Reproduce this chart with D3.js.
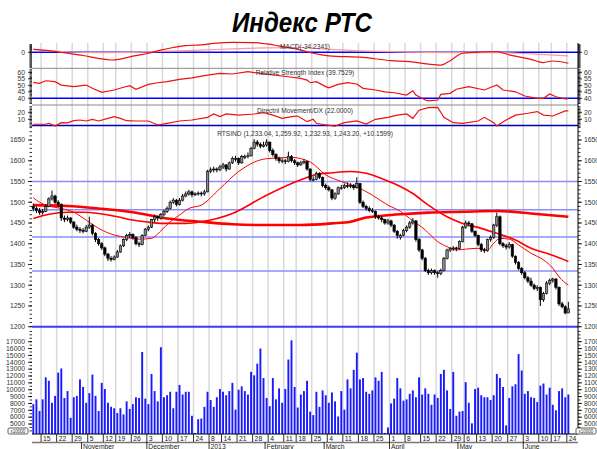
<!DOCTYPE html>
<html><head><meta charset="utf-8">
<script src="https://cdn.jsdelivr.net/npm/d3@7"></script>
<style>body{margin:0;background:#fff}svg{display:block}text{font-family:"Liberation Sans",Arial,sans-serif}</style>
</head><body><svg id="c" width="597" height="449"></svg>
<script>
const opens = [1490,1485,1480,1475,1478,1490,1508,1515,1500,1495,1462,1458,1462,1452,1440,1435,1432,1430,1440,1445,1425,1410,1400,1390,1375,1365,1362,1368,1380,1395,1410,1420,1422,1415,1400,1398,1420,1435,1440,1458,1465,1462,1470,1478,1485,1500,1505,1495,1505,1515,1520,1525,1518,1520,
1522,1520,1525,1575,1578,1580,1578,1585,1590,1580,1595,1605,1605,1595,1610,1610,1612,1630,1645,1640,1635,1638,1645,1625,1615,1605,1600,1600,1598,1610,1600,1595,1590,1595,1598,1580,1555,1555,1570,1560,1540,1535,1530,1510,1520,1535,1535,1540,1538,1540,1535,1545,1500,1490,1485,1480,1478,1465,1462,1458,1450,1455,1445,1430,
1415,1420,1432,1440,1450,1455,1410,1385,1365,1335,1330,1335,1330,1328,1335,1365,1385,1388,1390,1388,1405,1440,1450,1448,1430,1420,1398,1385,1383,1410,1415,1445,1465,1400,1395,1392,1398,1370,1355,1340,1330,1318,1310,1300,1292,1295,1265,1280,1305,1312,1315,1295,1255,1248,1233.04];
const highs = [1497,1490,1486,1484,1495,1512,1528,1518,1505,1497,1468,1468,1464,1455,1446,1440,1438,1445,1465,1448,1428,1414,1404,1393,1378,1370,1372,1385,1398,1413,1424,1428,1425,1418,1405,1423,1438,1444,1460,1470,1468,1474,1482,1490,1504,1510,1508,1510,1520,1526,1530,1528,1524,1526,
1526,1530,1578,1584,1586,1584,1590,1595,1592,1598,1610,1612,1608,1614,1615,1620,1634,1652,1650,1644,1646,1652,1646,1630,1618,1610,1606,1604,1622,1614,1604,1598,1600,1604,1600,1582,1562,1574,1572,1562,1545,1540,1532,1524,1538,1542,1545,1548,1546,1544,1560,1546,1504,1494,1490,1486,1480,1470,1466,1460,1460,1458,1447,1433,
1424,1436,1444,1455,1462,1457,1414,1388,1368,1340,1340,1338,1334,1340,1368,1388,1392,1394,1393,1408,1443,1456,1455,1450,1432,1422,1402,1390,1412,1420,1448,1475,1468,1404,1400,1404,1400,1372,1358,1344,1334,1322,1318,1304,1300,1297,1284,1310,1316,1318,1317,1297,1260,1252,1259.92];
const lows = [1478,1474,1470,1470,1476,1488,1504,1496,1488,1455,1452,1454,1447,1436,1430,1426,1425,1428,1436,1420,1404,1395,1385,1370,1358,1357,1360,1366,1378,1392,1406,1414,1410,1396,1392,1396,1418,1430,1438,1452,1455,1458,1466,1474,1482,1496,1490,1492,1502,1512,1516,1512,1515,1516,
1514,1516,1524,1570,1572,1572,1575,1580,1574,1578,1592,1598,1590,1593,1604,1606,1610,1628,1634,1630,1632,1634,1620,1610,1600,1594,1594,1592,1596,1596,1590,1585,1588,1592,1576,1550,1550,1553,1556,1536,1530,1526,1505,1506,1518,1530,1532,1534,1534,1530,1533,1496,1486,1480,1476,1474,1460,1458,1452,1446,1446,1440,1426,1412,
1410,1418,1428,1436,1446,1405,1380,1360,1332,1325,1326,1325,1318,1324,1333,1362,1380,1383,1382,1386,1403,1436,1442,1426,1416,1394,1380,1378,1381,1405,1412,1440,1396,1390,1386,1388,1366,1350,1336,1325,1314,1305,1296,1288,1286,1250,1260,1278,1300,1306,1290,1250,1244,1230,1232.93];
const closes = [1485,1480,1475,1478,1490,1508,1515,1500,1495,1462,1458,1462,1452,1440,1435,1432,1430,1440,1445,1425,1410,1400,1390,1375,1365,1362,1368,1380,1395,1410,1420,1422,1415,1400,1398,1420,1435,1440,1458,1465,1462,1470,1478,1485,1500,1505,1495,1505,1515,1520,1525,1518,1520,1522,
1520,1525,1575,1578,1580,1578,1585,1590,1580,1595,1605,1605,1595,1610,1610,1612,1630,1645,1640,1635,1638,1645,1625,1615,1605,1600,1600,1598,1610,1600,1595,1590,1595,1598,1580,1555,1555,1570,1560,1540,1535,1530,1510,1520,1535,1535,1540,1538,1540,1535,1545,1500,1490,1485,1480,1478,1465,1462,1458,1450,1455,1445,1430,1420,
1420,1432,1440,1450,1455,1410,1385,1365,1335,1330,1335,1330,1328,1335,1365,1385,1388,1390,1388,1405,1440,1450,1448,1430,1420,1398,1385,1383,1410,1415,1445,1465,1400,1395,1392,1398,1370,1355,1340,1330,1318,1310,1300,1292,1295,1265,1280,1305,1312,1315,1295,1255,1248,1233.04,1243.20];
const volumes = [7900,8600,6900,8600,11800,11300,8100,9100,12500,13100,8800,9800,5900,8900,9100,11500,10400,8100,9500,12200,9100,6900,11000,10100,8100,7500,7300,6600,7300,6400,8300,7200,7900,8900,8800,15500,8700,7900,12300,9800,8300,16200,8900,9200,9700,7300,9700,10700,9300,9700,9700,6200,3700,5700,
5800,7500,9700,8500,7500,8900,10100,9700,9200,9800,11000,7100,10000,10500,9800,9300,12600,12100,13800,16000,11700,8800,7600,11700,8600,10200,8100,10100,14400,17200,10400,7400,9300,9800,11300,6800,6300,9700,7500,9900,9200,8100,9600,8300,6100,9800,7100,11500,10200,12900,15400,11500,11700,9700,9400,9900,11800,11300,12600,3700,4500,8000,8700,11700,
10200,8400,8600,9400,9900,8900,11800,9300,10200,9400,7800,9300,8800,12300,12900,9900,7200,12600,6200,6800,6900,11100,8100,5100,10100,10300,9200,8900,8900,8500,9200,12300,11700,10400,4800,8800,10500,10800,15200,12800,9400,9800,8900,8800,8200,10600,10900,9300,10300,7800,7000,9800,10200,8900,9300];
const maFast = [[0,1511],[1,1505],[4,1493],[9,1485],[13,1476],[17,1457],[21,1437],[26,1421],[30,1415],[34,1411],[38,1413],[41,1431],[44,1453],[47,1469],[50,1485],[54,1493],[60,1533],[66,1574],[75,1605],[83,1608],[89,1597],[94,1566],[99,1550],[104,1537],[109,1517],[114,1493],[118,1478],[121,1461],[126,1433],[130,1405],[133,1393],[136,1385],[139,1387],[143,1389],[146,1385],[148,1401],[150,1413],[153,1411],[156,1397],[160,1377],[164,1361],[167,1341],[169,1320],[172,1300]];
const maMid = [[0,1461],[5,1471],[11,1476],[16,1476],[21,1473],[27,1465],[32,1457],[37,1452],[41,1449],[45,1449],[49,1449],[54,1453],[64,1473],[75,1517],[86,1554],[91,1567],[96,1571],[102,1574],[107,1570],[113,1554],[118,1538],[122,1521],[127,1493],[133,1465],[138,1449],[144,1437],[149,1425],[155,1409],[160,1389],[165,1377],[168,1369],[172,1357]];
const maSlow = [[0,1493],[11,1491],[21,1485],[32,1476],[43,1461],[54,1453],[64,1447],[75,1445],[86,1445],[96,1449],[102,1453],[107,1463],[113,1468],[118,1471],[127,1475],[138,1477],[149,1479],[160,1473],[172,1465]];
const macdLine = [[0,9],[5,5],[11,-3],[16,-10],[21,-19],[25,-24],[28,-21],[32,-12],[37,-3],[41,7],[45,15],[49,21],[54,23],[58,28],[64,31],[71,30],[75,26],[80,18],[86,7],[90,-3],[95,-11],[106,-16],[115,-26],[121,-29],[127,-37],[131,-40],[134,-26],[138,-3],[144,1],[149,2],[153,-8],[160,-22],[164,-32],[167,-27],[172,-34.2]];
const macdSignal = [[0,9],[11,1],[21,-1],[32,0],[43,3.5],[54,7],[64,11],[75,14],[86,15],[95,9],[115,2],[138,-1],[149,-1],[160,-5],[172,-11]];
const rsiLine = [[0,52.3],[2,51.5],[4,53.5],[7,52.8],[9,50.2],[13,49],[17,50.2],[19,47.7],[22,44.6],[26,46.4],[29,48.5],[31,49.7],[33,47],[37,50.7],[40,52],[43,52.8],[47,54.6],[51,55.8],[56,57.9],[60,59.2],[64,58.7],[69,60.5],[73,59.2],[77,58],[82,56.6],[86,55.4],[88,54],[89,52],[91,52.8],[94,49],[95,48],[98,50.7],[101,52],[104,51],[106,47.7],[110,46.4],[113,45],[116,44.3],[120,42.5],[122,45.8],[123,42.5],[126,38.7],[127,38],[130,38.7],[131,43],[134,43.8],[136,47],[140,49],[145,46.4],[149,50.2],[151,46.4],[155,45],[158,41.8],[162,40],[164,40],[166,43.3],[168,41.2],[171,39.5],[172,39.75]];
const dxLine = [[0,2.9],[4,2.9],[5,4.3],[7,0.4],[9,5.2],[11,5],[13,8],[15,9],[17,7.6],[19,10],[21,7.6],[24,11.4],[26,13.8],[28,11.4],[30,8],[33,7.6],[37,7.6],[40,1.9],[43,4.3],[47,7.6],[51,9],[56,12.8],[58,17.6],[60,13.8],[62,17.6],[66,16],[71,17.6],[74,19.5],[77,16],[80,11.4],[83,13.8],[85,14.7],[88,6.6],[90,10],[91,4.3],[94,1.9],[97,0.4],[100,5.2],[104,7.6],[107,3.3],[110,10],[114,12.8],[117,16],[120,17.6],[122,11.4],[124,23],[127,26.6],[130,27],[132,12.8],[135,5.2],[138,4.3],[143,7.6],[145,12.8],[148,5.2],[149,0.4],[152,9],[155,16],[159,18.6],[162,21],[164,16],[167,14.7],[171,21.9],[172,22]];
const levels = [1550,1482,1416,1334];
const weekTickIdx = [3,8,13,18,23,27,32,37,42,47,52,57,61,66,71,76,81,85,90,95,100,105,110,115,120,125,130,135,139,143,148,153,158,163,167,172];
const weekLabels = ["15","22","29","5","12","19","26","3","10","17","24","8","14","21","28","4","11","18","25","4","11","18","25","1","8","15","22","29","6","13","20","27","3","10","17","24"];
const monthIdx = [16,37,57,75,94,115,137,158];
const monthLabels = ["November","December","2013","February","March","April","May","June"];

const svg = d3.select("#c");
const X0=32, X1=578;
const x = d3.scaleLinear().domain([-0.42,175.1]).range([X0,X1]);
const yMacd = d3.scaleLinear().domain([-49.8,25.9]).range([68.3,44]);
const yRsi = d3.scaleLinear().domain([34.85,63.1]).range([105,68.3]);
const yDx = d3.scaleLinear().domain([0,30]).range([126.3,105.3]);
const yP = d3.scaleLinear().domain([1200,1685]).range([326.7,125.5]);
const yV = d3.scaleLinear().domain([3545,19187]).range([434,326.7]);

// grid
svg.append("g").selectAll("line").data(weekTickIdx).join("line")
 .attr("x1",d=>x(d-0.5)).attr("x2",d=>x(d-0.5)).attr("y1",43).attr("y2",434)
 .attr("stroke","#d9d9d9").attr("stroke-width",1.5);

// panel separators
[68.3,105].forEach(y=>svg.append("line").attr("x1",X0).attr("x2",X1).attr("y1",y).attr("y2",y).attr("stroke","#8a8a8a").attr("stroke-width",1));

// price levels
svg.append("g").selectAll("line").data(levels).join("line")
 .attr("x1",X0).attr("x2",X1).attr("y1",d=>yP(d)).attr("y2",d=>yP(d)).attr("stroke","#8c8cff").attr("stroke-width",1.5);
svg.append("line").attr("x1",X0).attr("x2",X1).attr("y1",yP(1200)).attr("y2",yP(1200)).attr("stroke","#3a3aff").attr("stroke-width",2);
svg.append("line").attr("x1",X0).attr("x2",X1).attr("y1",yP(1685)).attr("y2",yP(1685)).attr("stroke","#0000b0").attr("stroke-width",1.5);
svg.append("line").attr("x1",X0).attr("x2",X1).attr("y1",yMacd(0)).attr("y2",yMacd(0)).attr("stroke","#0000ff").attr("stroke-width",1.5);
svg.append("line").attr("x1",X0).attr("x2",X1).attr("y1",yRsi(40)).attr("y2",yRsi(40)).attr("stroke","#0000ff").attr("stroke-width",1.5);

const ln = (ys,curve)=>d3.line().x(d=>x(d[0])).y(d=>ys(d[1])).curve(curve||d3.curveLinear);
svg.append("path").attr("d",ln(yMacd,d3.curveMonotoneX)(macdSignal)).attr("fill","none").attr("stroke","#ff9a9a").attr("stroke-width",1.2);
svg.append("path").attr("d",ln(yMacd,d3.curveMonotoneX)(macdLine)).attr("fill","none").attr("stroke","#ee1111").attr("stroke-width",1.2);
svg.append("path").attr("d",ln(yRsi)(rsiLine)).attr("fill","none").attr("stroke","#ee1111").attr("stroke-width",1.2);
svg.append("path").attr("d",ln(yDx)(dxLine)).attr("fill","none").attr("stroke","#ee1111").attr("stroke-width",1.2);

// volume bars
svg.append("g").selectAll("rect").data(volumes).join("rect")
 .attr("x",(d,i)=>x(i)-0.95).attr("width",1.9).attr("y",d=>yV(d)).attr("height",d=>434-yV(d)).attr("fill","#1a1aff");

// MAs
svg.append("path").attr("d",ln(yP,d3.curveMonotoneX)(maSlow)).attr("fill","none").attr("stroke","#ff0000").attr("stroke-width",2.6);
svg.append("path").attr("d",ln(yP,d3.curveMonotoneX)(maMid)).attr("fill","none").attr("stroke","#ff0000").attr("stroke-width",1.6);
svg.append("path").attr("d",ln(yP,d3.curveMonotoneX)(maFast)).attr("fill","none").attr("stroke","#ff0000").attr("stroke-width",1);

// candles
const cg = svg.append("g");
closes.forEach((c,i)=>{
  const o=opens[i];
  cg.append("line").attr("x1",x(i)).attr("x2",x(i)).attr("y1",yP(highs[i])).attr("y2",yP(lows[i])).attr("stroke","#000").attr("stroke-width",1);
  const top=yP(Math.max(o,c)), bot=yP(Math.min(o,c));
  cg.append("rect").attr("x",x(i)-1.2).attr("width",2.4).attr("y",top).attr("height",Math.max(0.8,bot-top))
   .attr("fill",c>=o?"#8a8a8a":"#000").attr("stroke","#000").attr("stroke-width",0.6);
});

// axes
function axisPair(scale, ticks, minor){
  [[X0,-1],[X1,1]].forEach(([ax,dir])=>{
    const g=svg.append("g");
    minor.forEach(v=>g.append("line").attr("x1",ax).attr("x2",ax+dir*2.5).attr("y1",scale(v)).attr("y2",scale(v)).attr("stroke","#000").attr("stroke-width",0.8));
    ticks.forEach(v=>{
      g.append("line").attr("x1",ax).attr("x2",ax+dir*4).attr("y1",scale(v)).attr("y2",scale(v)).attr("stroke","#000").attr("stroke-width",0.8);
      g.append("text").attr("x",dir<0?ax-7:ax+6).attr("y",scale(v)+2.3).attr("text-anchor",dir<0?"end":"start")
       .attr("font-size",6.8).attr("fill","#333").text(v);
    });
  });
}
axisPair(yMacd,[0],d3.range(-48,26,3));
axisPair(yRsi,[40,45,50,55,60],d3.range(36,63,1));
axisPair(yDx,[10,20],d3.range(0,30,2));
axisPair(yP,d3.range(1200,1651,50),d3.range(1200,1685,10));
axisPair(yV,d3.range(5000,17001,1000),d3.range(4000,19000,500));
svg.append("line").attr("x1",X1).attr("x2",X1).attr("y1",43).attr("y2",434).attr("stroke","#000").attr("stroke-width",1);
svg.append("line").attr("x1",X0).attr("x2",X1).attr("y1",434).attr("y2",434).attr("stroke","#000").attr("stroke-width",1);

// x10000 boxes
[[8,428],[576,428]].forEach(([bx,by])=>{
  svg.append("rect").attr("x",bx).attr("y",by).attr("width",20).attr("height",6).attr("rx",1.5).attr("fill","#fff").attr("stroke","#333").attr("stroke-width",0.8);
  svg.append("text").attr("x",bx+10).attr("y",by+4.7).attr("text-anchor","middle").attr("font-size",4.5).attr("fill","#333").text("x10000");
});

// x axis
svg.append("line").attr("x1",X0).attr("x2",X1).attr("y1",442.5).attr("y2",442.5).attr("stroke","#777").attr("stroke-width",1.5);
weekTickIdx.forEach((d,k)=>{
  const xx=x(d-0.5);
  svg.append("line").attr("x1",xx).attr("x2",xx).attr("y1",434).attr("y2",442).attr("stroke","#000").attr("stroke-width",0.8);
  svg.append("text").attr("x",xx+2).attr("y",440.5).attr("font-size",6.8).attr("fill","#222").text(weekLabels[k]);
});
monthIdx.forEach((d,k)=>{
  const xx=x(d-0.5);
  svg.append("line").attr("x1",xx).attr("x2",xx).attr("y1",442).attr("y2",449).attr("stroke","#000").attr("stroke-width",0.8);
  svg.append("text").attr("x",xx+1.5).attr("y",448.5).attr("font-size",6.8).attr("fill","#222").text(monthLabels[k]);
});

const lab=(t,y)=>svg.append("text").attr("x",305).attr("y",y).attr("text-anchor","middle").attr("font-size",6.6).attr("fill","#333").text(t);
lab("MACD(-34.2341)",48.5);
lab("Relative Strength Index (39.7529)",75);
lab("Directnl Movement/DX (22.0000)",112.5);
lab("RTSIND (1,233.04, 1,259.92, 1,232.93, 1,243.20, +10.1599)",135.5);

svg.append("text").attr("x",302).attr("y",32).attr("text-anchor","middle").attr("font-family","'Open Sans'")
 .attr("font-weight",700).attr("font-style","italic").attr("font-size",28).attr("textLength",140).attr("lengthAdjust","spacingAndGlyphs")
 .attr("fill","#000").text("Индекс РТС");
</script></body></html>
